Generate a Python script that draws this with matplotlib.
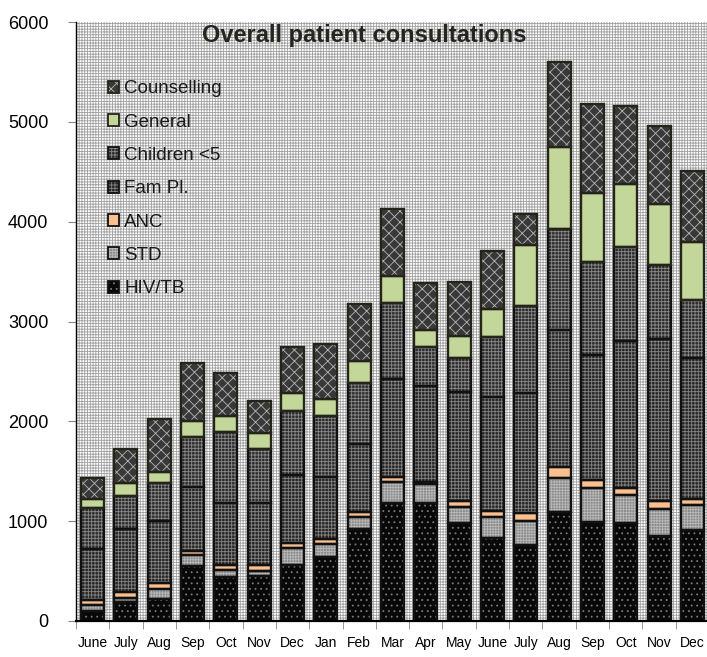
import numpy as np
import matplotlib.pyplot as plt
from matplotlib.patches import Patch, Rectangle
from matplotlib.legend_handler import HandlerTuple

plt.rcParams['font.family'] = ['Liberation Sans', 'DejaVu Sans']
plt.rcParams['hatch.linewidth'] = 0.6

# ---- data ----
months = ["June", "July", "Aug", "Sep", "Oct", "Nov", "Dec", "Jan", "Feb", "Mar",
          "Apr", "May", "June", "July", "Aug", "Sep", "Oct", "Nov", "Dec"]
hiv_tb = [103, 187, 217, 551, 438, 451, 561, 644, 919, 1179, 1179, 979, 828, 762, 1095, 995, 978, 849, 912]
std = [54, 47, 100, 107, 73, 53, 167, 124, 123, 214, 191, 167, 217, 243, 341, 335, 283, 272, 249]
anc = [53, 53, 61, 46, 50, 57, 50, 50, 53, 53, 23, 60, 57, 80, 110, 83, 73, 84, 62]
fam_pl = [511, 632, 627, 636, 618, 618, 684, 627, 676, 979, 962, 1092, 1139, 1196, 1370, 1252, 1469, 1616, 1414]
children = [414, 337, 375, 500, 718, 541, 641, 608, 611, 758, 394, 341, 602, 875, 1009, 935, 946, 745, 576]
general = [87, 124, 116, 167, 157, 167, 177, 170, 223, 277, 167, 220, 283, 612, 818, 685, 625, 613, 581]
counselling = [208, 340, 528, 575, 428, 317, 468, 552, 571, 668, 468, 538, 585, 310, 855, 892, 789, 779, 716]

series = [
    ("HIV/TB", hiv_tb),
    ("STD", std),
    ("ANC", anc),
    ("Fam Pl.", fam_pl),
    ("Children <5", children),
    ("General", general),
    ("Counselling", counselling),
]

# face colour, hatch, hatch colour, outline colour
styles = {
    "HIV/TB": ("#080808", "...", "#7a7a7a", "#111111"),
    "STD": ("#8a8a8a", "++++++", "#b8b8b8", "#111111"),
    "ANC": ("#fac090", None, None, "#111111"),
    "Fam Pl.": ("#262626", "+++++", "#858585", "#111111"),
    "Children <5": ("#2c2c2c", "+++++", "#8a8a8a", "#111111"),
    "General": ("#c4d79b", None, None, "#24241a"),
    "Counselling": ("#383838", "xxx", "#b5b5b5", "#24241a"),
}

fig = plt.figure(figsize=(7.07, 6.57), dpi=100)
ax = fig.add_axes([0.1075, 0.0548, 0.8953, 0.9117])

# dotted plot-area background
bg = Rectangle((0, 0), 1, 1, transform=ax.transAxes, facecolor="white",
               hatch="++++++", edgecolor="#a0a0a0", linewidth=0, zorder=0)
ax.add_patch(bg)

x = np.arange(len(months))
width = 0.69
bottom = np.zeros(len(months))
handles = []
for name, vals in series:
    vals = np.array(vals)
    fc, hatch, hc, ec = styles[name]
    ax.bar(x, vals, width, bottom=bottom, color=fc, hatch=hatch,
           edgecolor=hc if hc else fc, linewidth=0, zorder=2)
    ax.bar(x, vals, width, bottom=bottom, fill=False, edgecolor=ec,
           linewidth=1.7, zorder=3)
    bottom += vals
    h_fill = Patch(facecolor=fc, hatch=hatch, edgecolor=hc if hc else fc, linewidth=0)
    h_edge = Patch(fill=False, edgecolor=ec, linewidth=1.3)
    handles.append(((h_fill, h_edge), name))

ax.set_xlim(-0.5, 18.5)
ax.set_ylim(0, 6000)
ax.set_yticks(np.arange(0, 6001, 1000))
ax.tick_params(axis='y', labelsize=13, length=6, color="#888888", pad=14)

ax.set_xticks(x)
ax.set_xticklabels(months)
ax.set_xticks(np.arange(-0.5, 19, 1), minor=True)
ax.tick_params(axis='x', which='major', length=0, labelsize=10, pad=11)
ax.tick_params(axis='x', which='minor', length=6, color="#888888", direction='out')

for s in ['top', 'right']:
    ax.spines[s].set_visible(False)
ax.spines['left'].set_linewidth(1.0)
ax.spines['bottom'].set_linewidth(1.6)
ax.spines['left'].set_zorder(4)
ax.spines['bottom'].set_zorder(4)

ax.text(0.455, 0.978, "Overall patient consultations", transform=ax.transAxes,
        ha='center', va='center', fontsize=17, fontweight='bold', color="#262620", zorder=5)

handles = handles[::-1]
leg = ax.legend([h for h, _ in handles], [n for _, n in handles],
                handler_map={tuple: HandlerTuple(ndivide=1)},
                loc='upper left', bbox_to_anchor=(0.039, 0.915), frameon=False,
                fontsize=13.5, handlelength=0.6, handleheight=0.6,
                handletextpad=0.25, labelspacing=0.87, borderaxespad=0)
for t in leg.get_texts():
    t.set_color("#1a1a1a")

fig.savefig("out.png", dpi=100)
